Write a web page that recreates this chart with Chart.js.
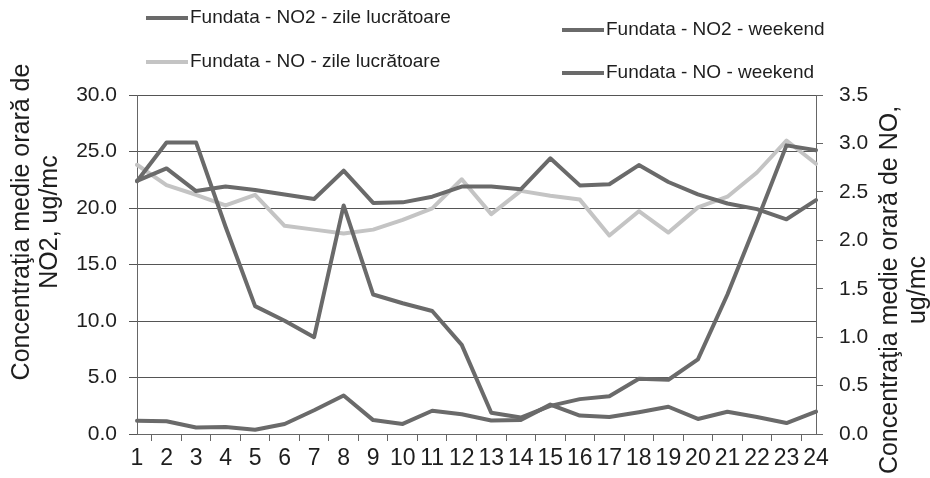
<!DOCTYPE html>
<html>
<head>
<meta charset="utf-8">
<script src="https://cdn.jsdelivr.net/npm/chart.js@4"></script>
<style>
  html, body { margin: 0; padding: 0; background: #fff; }
  #wrap { width: 930px; height: 478px; }
</style>
</head>
<body>
<div id="wrap"><canvas id="chart" width="930" height="478"></canvas></div>
<script>
// Hours of the day (x categories)
const hours = ['1', '2', '3', '4', '5', '6', '7', '8', '9', '10', '11', '12',
               '13', '14', '15', '16', '17', '18', '19', '20', '21', '22', '23', '24'];

// NO2, ug/mc (left axis)
const no2Workdays = [22.4, 23.5, 21.5, 21.9, 21.6, 21.2, 20.8, 23.3, 20.45, 20.5, 21.0, 21.9,
                     21.9, 21.65, 24.4, 22.0, 22.1, 23.8, 22.3, 21.2, 20.4, 19.9, 19.0, 20.7];
const no2Weekend = [1.17, 1.13, 0.58, 0.62, 0.37, 0.89, 2.1, 3.4, 1.23, 0.89, 2.06, 1.75,
                    1.2, 1.24, 2.6, 1.63, 1.5, 1.93, 2.41, 1.33, 1.97, 1.51, 0.97, 1.99];

// NO, ug/mc (right axis)
const noWorkdays = [2.78, 2.57, 2.47, 2.36, 2.47, 2.15, 2.11, 2.07, 2.11, 2.21, 2.33, 2.63,
                    2.27, 2.51, 2.46, 2.42, 2.05, 2.30, 2.08, 2.34, 2.45, 2.70, 3.03, 2.79];
const noWeekend = [2.61, 3.01, 3.01, 2.14, 1.32, 1.17, 1.00, 2.36, 1.44, 1.35, 1.27, 0.92,
                   0.22, 0.17, 0.29, 0.36, 0.39, 0.57, 0.56, 0.77, 1.44, 2.2, 2.98, 2.93];

const seriesLabels = ['Fundata - NO2 - zile lucrătoare', 'Fundata - NO2 - weekend',
                      'Fundata - NO - zile lucrătoare', 'Fundata - NO - weekend'];
const leftTitle = ['Concentraţia medie orară de', 'NO2, ug/mc'];
const rightTitle = ['Concentraţia medie orară de NO,', 'ug/mc'];

const DARK = '#6a6a6a';
const LIGHT = '#c4c4c4';
const TEXT = '#1e1e1e';
const FONT = '"Liberation Sans", Arial, sans-serif';

// legend + rotated axis titles drawn by hand (Excel-like layout)
const extras = {
    id: 'extras',
    afterDraw(chart) {
        const ctx = chart.ctx;
        ctx.save();

        // legend: two columns, second column sits a bit lower
        const spots = [
            { x: 146, y: 18 }, { x: 562, y: 30 },
            { x: 146, y: 62 }, { x: 562, y: 73 }
        ];
        ctx.font = '19px ' + FONT;
        ctx.textBaseline = 'middle';
        chart.data.datasets.forEach((ds, i) => {
            const p = spots[i];
            ctx.strokeStyle = ds.borderColor;
            ctx.lineWidth = 4;
            ctx.beginPath();
            ctx.moveTo(p.x, p.y);
            ctx.lineTo(p.x + 42, p.y);
            ctx.stroke();
            ctx.fillStyle = TEXT;
            ctx.textAlign = 'left';
            ctx.fillText(ds.label, p.x + 44, p.y);
        });

        // axis titles
        ctx.font = '25px ' + FONT;
        ctx.fillStyle = TEXT;
        ctx.textAlign = 'center';
        const drawTitle = (lines, x0, cy, gap) => {
            lines.forEach((t, i) => {
                ctx.save();
                ctx.translate(x0 + i * gap, cy);
                ctx.rotate(-Math.PI / 2);
                ctx.fillText(t, 0, 0);
                ctx.restore();
            });
        };
        drawTitle(leftTitle, 22, 222, 28);
        drawTitle(rightTitle, 890, 290, 28);
        ctx.restore();
    }
};

function initChart() {
    const ctx = document.getElementById('chart').getContext('2d');

    new Chart(ctx, {
        type: 'line',
        data: {
            labels: hours,
            datasets: [
                { label: seriesLabels[0], data: no2Workdays, yAxisID: 'y', borderColor: DARK },
                { label: seriesLabels[1], data: no2Weekend, yAxisID: 'y', borderColor: DARK },
                { label: seriesLabels[2], data: noWorkdays, yAxisID: 'y1', borderColor: LIGHT, order: 5 },
                { label: seriesLabels[3], data: noWeekend, yAxisID: 'y1', borderColor: DARK }
            ]
        },
        options: {
            responsive: false,
            devicePixelRatio: 1,
            animation: false,
            layout: { padding: { top: 95, left: 0, right: 0, bottom: 0 } },
            elements: {
                line: { borderWidth: 4, tension: 0, borderCapStyle: 'round', borderJoinStyle: 'round' },
                point: { radius: 0 }
            },
            plugins: {
                legend: { display: false },
                tooltip: { enabled: false }
            },
            scales: {
                x: {
                    afterFit: s => { s.height = 44; },
                    grid: { drawOnChartArea: false, tickLength: 7, color: '#666', offset: true },
                    border: { color: '#666' },
                    ticks: {
                        autoSkip: false, maxRotation: 0, padding: 4,
                        color: TEXT, font: { family: FONT, size: 23 }
                    }
                },
                y: {
                    position: 'left',
                    min: 0, max: 30,
                    afterFit: s => { s.width = 137; },
                    grid: { color: '#555', tickLength: 8 },
                    border: { color: '#666' },
                    ticks: {
                        stepSize: 5, padding: 12,
                        color: TEXT, font: { family: FONT, size: 21 },
                        callback: v => v.toFixed(1)
                    }
                },
                y1: {
                    position: 'right',
                    min: 0, max: 3.5,
                    afterFit: s => { s.width = 114; },
                    grid: { drawOnChartArea: false, color: '#666', tickLength: 7 },
                    border: { color: '#666' },
                    ticks: {
                        stepSize: 0.5, padding: 16,
                        color: TEXT, font: { family: FONT, size: 21 },
                        callback: v => v.toFixed(1)
                    }
                }
            }
        },
        plugins: [extras]
    });
}

document.addEventListener('DOMContentLoaded', initChart);
</script>
</body>
</html>
